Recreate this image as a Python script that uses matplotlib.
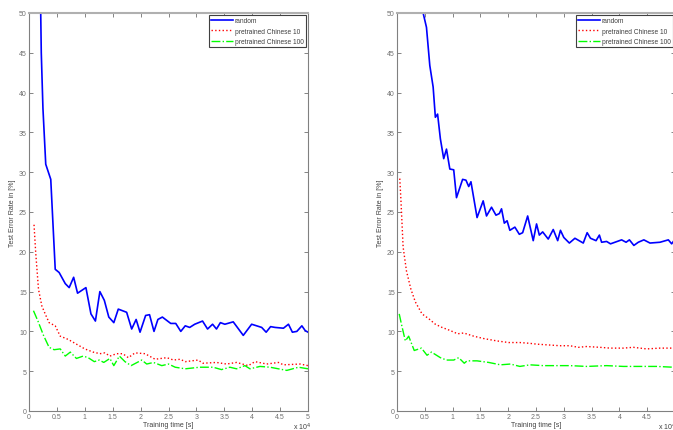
import matplotlib.pyplot as plt

plt.rcParams['font.family'] = ['Liberation Sans', 'DejaVu Sans']

# training time in units of 1e4 s, error rate in %
# left panel
rand_x_l = [0.20, 0.22, 0.25, 0.30, 0.39, 0.47, 0.54, 0.65, 0.72, 0.80, 0.87, 1.02, 1.11, 1.19,
            1.27, 1.35, 1.43, 1.52, 1.60, 1.75, 1.84, 1.92, 1.99, 2.09, 2.16, 2.24, 2.31, 2.39,
            2.54, 2.63, 2.72, 2.80, 2.88, 2.97, 3.11, 3.20, 3.29, 3.36, 3.43, 3.51, 3.66, 3.84,
            3.99, 4.17, 4.25, 4.33, 4.41, 4.56, 4.65, 4.72, 4.80, 4.89, 4.95, 5.00]
rand_y_l = [55.0, 45.0, 38.0, 31.0, 29.1, 17.8, 17.4, 16.0, 15.5, 16.8, 14.8, 15.5, 12.2, 11.3,
            15.0, 13.9, 11.8, 11.1, 12.8, 12.4, 10.3, 11.5, 9.9, 12.0, 12.1, 10.0, 11.5, 11.8,
            11.0, 11.0, 10.0, 10.7, 10.5, 10.9, 11.3, 10.3, 10.9, 10.3, 11.1, 10.9, 11.2, 9.5,
            10.9, 10.5, 9.9, 10.6, 10.5, 10.4, 10.9, 9.9, 10.0, 10.7, 10.1, 9.9]
c10_x_l = [0.09, 0.12, 0.17, 0.23, 0.29, 0.36, 0.47, 0.56, 0.70, 0.85, 1.00, 1.15, 1.27, 1.36,
           1.45, 1.57, 1.68, 1.78, 1.90, 2.08, 2.26, 2.47, 2.59, 2.71, 2.80, 3.03, 3.12, 3.36,
           3.54, 3.72, 3.93, 4.05, 4.26, 4.47, 4.56, 4.86, 5.00]
c10_y_l = [23.4, 19.9, 15.3, 13.2, 12.2, 11.1, 10.7, 9.4, 9.0, 8.4, 7.8, 7.4, 7.2, 7.3,
           6.9, 7.2, 7.2, 6.7, 7.3, 7.2, 6.5, 6.7, 6.4, 6.5, 6.2, 6.4, 6.0, 6.1,
           5.9, 6.1, 5.7, 6.2, 5.9, 6.1, 5.8, 5.9, 5.7]
c100_x_l = [0.08, 0.16, 0.26, 0.36, 0.45, 0.56, 0.65, 0.74, 0.85, 0.97, 1.06, 1.17, 1.26, 1.34,
            1.45, 1.52, 1.62, 1.72, 1.83, 2.02, 2.11, 2.23, 2.38, 2.50, 2.62, 2.80, 3.06, 3.30,
            3.45, 3.60, 3.72, 3.87, 3.96, 4.14, 4.32, 4.47, 4.62, 4.83, 5.00]
c100_y_l = [12.6, 11.3, 9.5, 8.0, 7.7, 7.8, 6.9, 7.4, 6.6, 6.9, 6.7, 6.2, 6.4, 6.1,
            6.6, 5.7, 6.9, 6.2, 5.7, 6.4, 5.9, 6.1, 5.7, 5.9, 5.5, 5.3, 5.5, 5.5,
            5.2, 5.5, 5.3, 5.7, 5.3, 5.6, 5.5, 5.3, 5.1, 5.5, 5.3]

# right panel
rand_x_r = [0.42, 0.47, 0.53, 0.59, 0.65, 0.69, 0.73, 0.78, 0.84, 0.89, 0.95, 1.02, 1.07, 1.18,
            1.24, 1.29, 1.33, 1.44, 1.55, 1.61, 1.70, 1.78, 1.84, 1.88, 1.93, 1.98, 2.03, 2.12,
            2.20, 2.26, 2.35, 2.45, 2.51, 2.56, 2.62, 2.72, 2.81, 2.89, 2.94, 3.00, 3.10, 3.20,
            3.35, 3.42, 3.48, 3.58, 3.64, 3.68, 3.77, 3.84, 4.04, 4.12, 4.18, 4.26, 4.34, 4.44,
            4.55, 4.73, 4.88, 4.94, 4.97]
rand_y_r = [54.0, 50.0, 48.2, 43.4, 40.7, 36.9, 37.3, 34.2, 31.7, 32.9, 30.4, 30.3, 26.8, 29.1,
            29.0, 28.2, 28.8, 24.3, 26.4, 24.5, 25.6, 24.6, 24.8, 25.4, 23.6, 23.9, 22.7, 23.1,
            22.2, 22.4, 24.5, 21.4, 23.5, 22.1, 22.5, 21.6, 22.8, 21.4, 22.7, 21.8, 21.1, 21.7,
            21.1, 22.4, 21.7, 21.4, 22.1, 21.2, 21.3, 21.0, 21.5, 21.2, 21.5, 20.8, 21.2, 21.5,
            21.1, 21.2, 21.5, 21.0, 21.3]
c10_x_r = [0.05, 0.07, 0.11, 0.17, 0.25, 0.33, 0.45, 0.57, 0.69, 0.81, 0.96, 1.09, 1.20, 1.38,
           1.56, 1.80, 2.01, 2.21, 2.39, 2.51, 2.72, 2.93, 3.11, 3.26, 3.41, 3.65, 3.83, 4.07,
           4.25, 4.49, 4.73, 4.97]
c10_y_r = [29.2, 26.6, 20.6, 17.6, 15.3, 13.7, 12.2, 11.6, 10.9, 10.5, 10.1, 9.7, 9.8, 9.4,
           9.1, 8.8, 8.6, 8.6, 8.5, 8.4, 8.3, 8.2, 8.2, 8.0, 8.1, 8.0, 7.9, 7.9,
           8.0, 7.8, 7.9, 7.9]
c100_x_r = [0.04, 0.08, 0.15, 0.21, 0.31, 0.44, 0.54, 0.62, 0.78, 0.89, 1.02, 1.11, 1.21, 1.26,
            1.44, 1.65, 1.86, 2.04, 2.21, 2.39, 2.63, 2.87, 3.11, 3.41, 3.77, 4.07, 4.37, 4.67,
            4.97]
c100_y_r = [12.2, 10.9, 8.8, 9.4, 7.6, 7.9, 7.0, 7.4, 6.7, 6.4, 6.4, 6.7, 6.0, 6.3,
            6.3, 6.1, 5.8, 5.9, 5.6, 5.8, 5.7, 5.7, 5.7, 5.6, 5.7, 5.6, 5.6, 5.6,
            5.5]

labels = ['random', 'pretrained Chinese 10', 'pretrained Chinese 100']
xticks = [0, 0.5, 1, 1.5, 2, 2.5, 3, 3.5, 4, 4.5, 5]
yticks = [0, 5, 10, 15, 20, 25, 30, 35, 40, 45, 50]

fs = 5.0
gray = '#707070'

fig = plt.figure(figsize=(6.73, 4.31), dpi=100)
ax1 = fig.add_axes([29 / 673, 1 - 412 / 431, 279 / 673, 398 / 431])
ax2 = fig.add_axes([397 / 673, 1 - 412 / 431, 278 / 673, 398 / 431])

panels = [
    (ax1, rand_x_l, rand_y_l, c10_x_l, c10_y_l, c100_x_l, c100_y_l),
    (ax2, rand_x_r, rand_y_r, c10_x_r, c10_y_r, c100_x_r, c100_y_r),
]

for ax, rx, ry, ax10, ay10, ax100, ay100 in panels:
    ax.plot(rx, ry, color='#0000ff', lw=1.2, label=labels[0])
    ax.plot(ax10, ay10, color='#ff0000', lw=1.0, ls=':', label=labels[1])
    ax.plot(ax100, ay100, color='#00ff00', lw=1.0, ls='-.', label=labels[2])
    ax.set_xlim(0, 5)
    ax.set_ylim(0, 50)
    ax.set_xticks(xticks)
    ax.set_xticklabels(['%g' % t for t in xticks])
    ax.set_yticks(yticks)
    ax.set_yticklabels(['%g' % t for t in yticks])
    ax.tick_params(direction='in', length=3, width=0.6, top=True, right=True,
                   labelsize=fs, colors=gray, pad=1.5)
    for s in ax.spines.values():
        s.set_color('#808080')
        s.set_linewidth(0.8)
    ax.spines['top'].set_color('#b0b0b0')
    ax.spines['top'].set_linewidth(1.5)
    ax.set_xlabel('Training time [s]', fontsize=fs, color='#404040', labelpad=0.5)
    ax.set_ylabel('Test Error Rate in [%]', fontsize=fs, color='#404040', labelpad=2)
    leg = ax.legend(loc='upper right', fontsize=4.8, fancybox=False, framealpha=1,
                    edgecolor='#404040', borderaxespad=0.3, handlelength=3.3,
                    handletextpad=0.2, borderpad=0.35, labelspacing=0.5)
    leg.get_frame().set_linewidth(0.8)
    for t in leg.get_texts():
        t.set_color('#404040')

fig.text(293 / 673, 1 - 427 / 431, r'x 10$^4$', fontsize=fs, color='#404040', va='center')
fig.text(658 / 673, 1 - 427 / 431, r'x 10$^4$', fontsize=fs, color='#404040', va='center')

fig.savefig('out.png', dpi=100)
